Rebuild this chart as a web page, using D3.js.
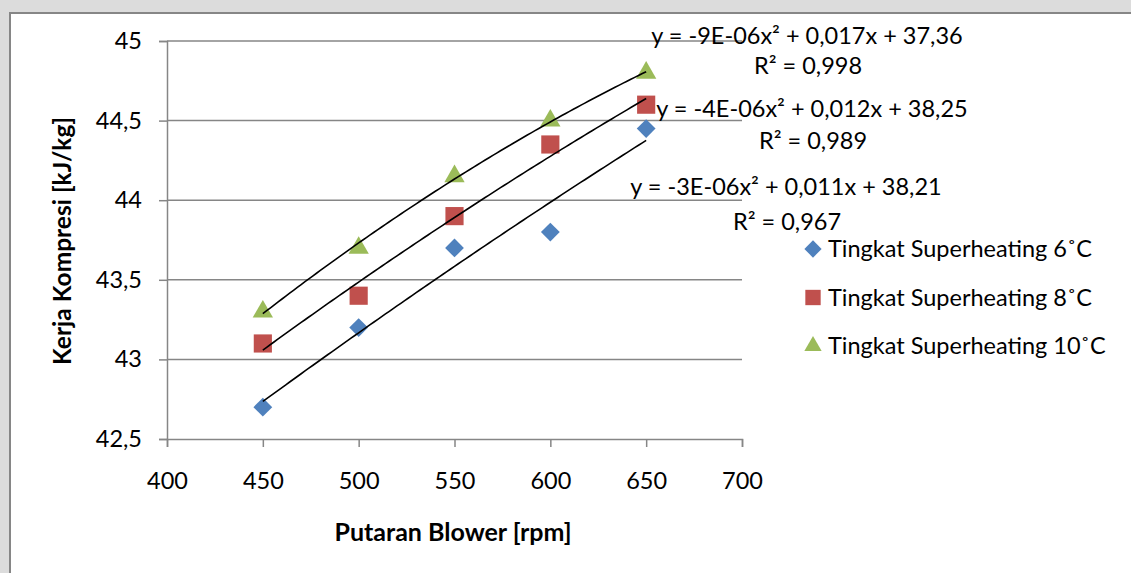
<!DOCTYPE html>
<html>
<head>
<meta charset="utf-8">
<script src="https://cdn.jsdelivr.net/npm/d3@7"></script>
<style>
  html, body { margin: 0; padding: 0; background: #dcdcdc; }
  svg { display: block; }
  text { font-family: Lato, "Open Sans", sans-serif; fill: #000; }
</style>
</head>
<body>
<svg id="chart" width="1131" height="573"></svg>
<script>
// ---- data ----
const rpm = [450, 500, 550, 600, 650];
const sh6 = [42.7, 43.2, 43.7, 43.8, 44.45];
const sh8 = [43.1, 43.4, 43.9, 44.35, 44.6];
const sh10 = [43.3, 43.7, 44.15, 44.5, 44.8];
const seriesNames = ["Tingkat Superheating 6˚C", "Tingkat Superheating 8˚C", "Tingkat Superheating 10˚C"];
const xTicks = [400, 450, 500, 550, 600, 650, 700];
const yTicks = [42.5, 43, 43.5, 44, 44.5, 45];
const yTickLabels = ["42,5", "43", "43,5", "44", "44,5", "45"];
const eqLabels = [
  "y = -3E-06x² + 0,011x + 38,21",
  "y = -4E-06x² + 0,012x + 38,25",
  "y = -9E-06x² + 0,017x + 37,36"
];
const r2Labels = ["R² = 0,967", "R² = 0,989", "R² = 0,998"];
const xTitle = "Putaran Blower [rpm]";
const yTitle = "Kerja Kompresi [kJ/kg]";

const colors = ["#4f81bd", "#c0504d", "#9bbb59"];
const symbols = [d3.symbolDiamond2, d3.symbolSquare2, d3.symbolTriangle2];

const svg = d3.select("#chart");

// frame
svg.append("rect").attr("x", 10).attr("y", 13).attr("width", 1140).attr("height", 580)
  .attr("fill", "#fff").attr("stroke", "#868686").attr("stroke-width", 2);

const x = d3.scaleLinear().domain([400, 700]).range([167, 742]);
const y = d3.scaleLinear().domain([42.5, 45]).range([439, 41]);

const grid = "#868686";
const fs = 23.5;
// gridlines
svg.append("g").selectAll("line").data(yTicks.slice(1)).join("line")
  .attr("x1", x(400)).attr("x2", x(700))
  .attr("y1", d => y(d)).attr("y2", d => y(d))
  .attr("stroke", grid).attr("stroke-width", 1.5);

// y axis
const yAxis = svg.append("g").attr("transform", `translate(${x(400)},0)`)
  .call(d3.axisLeft(y).tickValues(yTicks).tickSize(8).tickPadding(17)
    .tickFormat((d, i) => yTickLabels[i]));
yAxis.select(".domain").attr("stroke", grid).attr("stroke-width", 1.5);
yAxis.selectAll(".tick line").attr("stroke", grid).attr("stroke-width", 1.5);
yAxis.selectAll(".tick text").attr("font-size", fs).attr("font-family", "Lato").attr("fill", "#000");

// x axis
const xAxis = svg.append("g").attr("transform", `translate(0,${y(42.5)})`)
  .call(d3.axisBottom(x).tickValues(xTicks).tickSize(8).tickPadding(25)
    .tickFormat(d3.format("d")));
xAxis.select(".domain").attr("stroke", grid).attr("stroke-width", 1.5);
xAxis.selectAll(".tick line").attr("stroke", grid).attr("stroke-width", 1.5);
xAxis.selectAll(".tick text").attr("font-size", fs).attr("font-family", "Lato").attr("fill", "#000");

// axis titles
svg.append("text").attr("x", 453).attr("y", 541).attr("text-anchor", "middle")
  .attr("font-size", 25).attr("font-weight", "bold").text(xTitle);
svg.append("text").attr("transform", "translate(71,241) rotate(-90)").attr("text-anchor", "middle")
  .attr("font-size", 24.5).attr("font-weight", "bold").text(yTitle);

// quadratic least-squares trendline
function quadFit(xs, ys) {
  let S = Array(5).fill(0), T = Array(3).fill(0);
  xs.forEach((xv, i) => {
    for (let k = 0; k < 5; k++) S[k] += Math.pow(xv, k);
    for (let k = 0; k < 3; k++) T[k] += ys[i] * Math.pow(xv, k);
  });
  const A = [[S[0], S[1], S[2], T[0]], [S[1], S[2], S[3], T[1]], [S[2], S[3], S[4], T[2]]];
  for (let i = 0; i < 3; i++) {
    let p = i;
    for (let r = i + 1; r < 3; r++) if (Math.abs(A[r][i]) > Math.abs(A[p][i])) p = r;
    [A[i], A[p]] = [A[p], A[i]];
    for (let r = 0; r < 3; r++) if (r !== i) {
      const f = A[r][i] / A[i][i];
      for (let c = i; c < 4; c++) A[r][c] -= f * A[i][c];
    }
  }
  return [A[0][3] / A[0][0], A[1][3] / A[1][1], A[2][3] / A[2][2]];
}

const allSeries = [sh6, sh8, sh10];
const markerSizes = [225, 420, 295];

// markers
allSeries.forEach((vals, si) => {
  svg.append("g").selectAll("path").data(vals).join("path")
    .attr("transform", (d, i) => `translate(${x(rpm[i])},${y(d)})`)
    .attr("d", d3.symbol().type(symbols[si]).size(markerSizes[si])())
    .attr("fill", colors[si]);
});

// trendlines (drawn over markers)
const line = d3.line().x(d => x(d[0])).y(d => y(d[1]));
allSeries.forEach((vals) => {
  const c = quadFit(rpm, vals);
  const pts = d3.range(rpm[0], rpm[rpm.length - 1] + 0.1, 2).map(xv => [xv, c[0] + c[1] * xv + c[2] * xv * xv]);
  svg.append("path").datum(pts).attr("d", line).attr("fill", "none")
    .attr("stroke", "#000").attr("stroke-width", 1.6);
});

// equation labels
const eqPos = [[786, 195, 787, 230], [812, 117, 813, 149], [807, 44, 808, 74]];
eqLabels.forEach((t, i) => {
  svg.append("text").attr("x", eqPos[i][0]).attr("y", eqPos[i][1]).attr("text-anchor", "middle")
    .attr("font-size", fs).text(t);
  svg.append("text").attr("x", eqPos[i][2]).attr("y", eqPos[i][3]).attr("text-anchor", "middle")
    .attr("font-size", fs).text(r2Labels[i]);
});

// legend
const legendSizes = [190, 300, 215];
const leg = svg.append("g");
seriesNames.forEach((n, i) => {
  const cy = 249 + i * 48.5;
  leg.append("path").attr("transform", `translate(813,${cy})`)
    .attr("d", d3.symbol().type(symbols[i]).size(legendSizes[i])())
    .attr("fill", colors[i]);
  leg.append("text").attr("x", 828).attr("y", cy + 8).attr("font-size", fs).text(n);
});
</script>
</body>
</html>
